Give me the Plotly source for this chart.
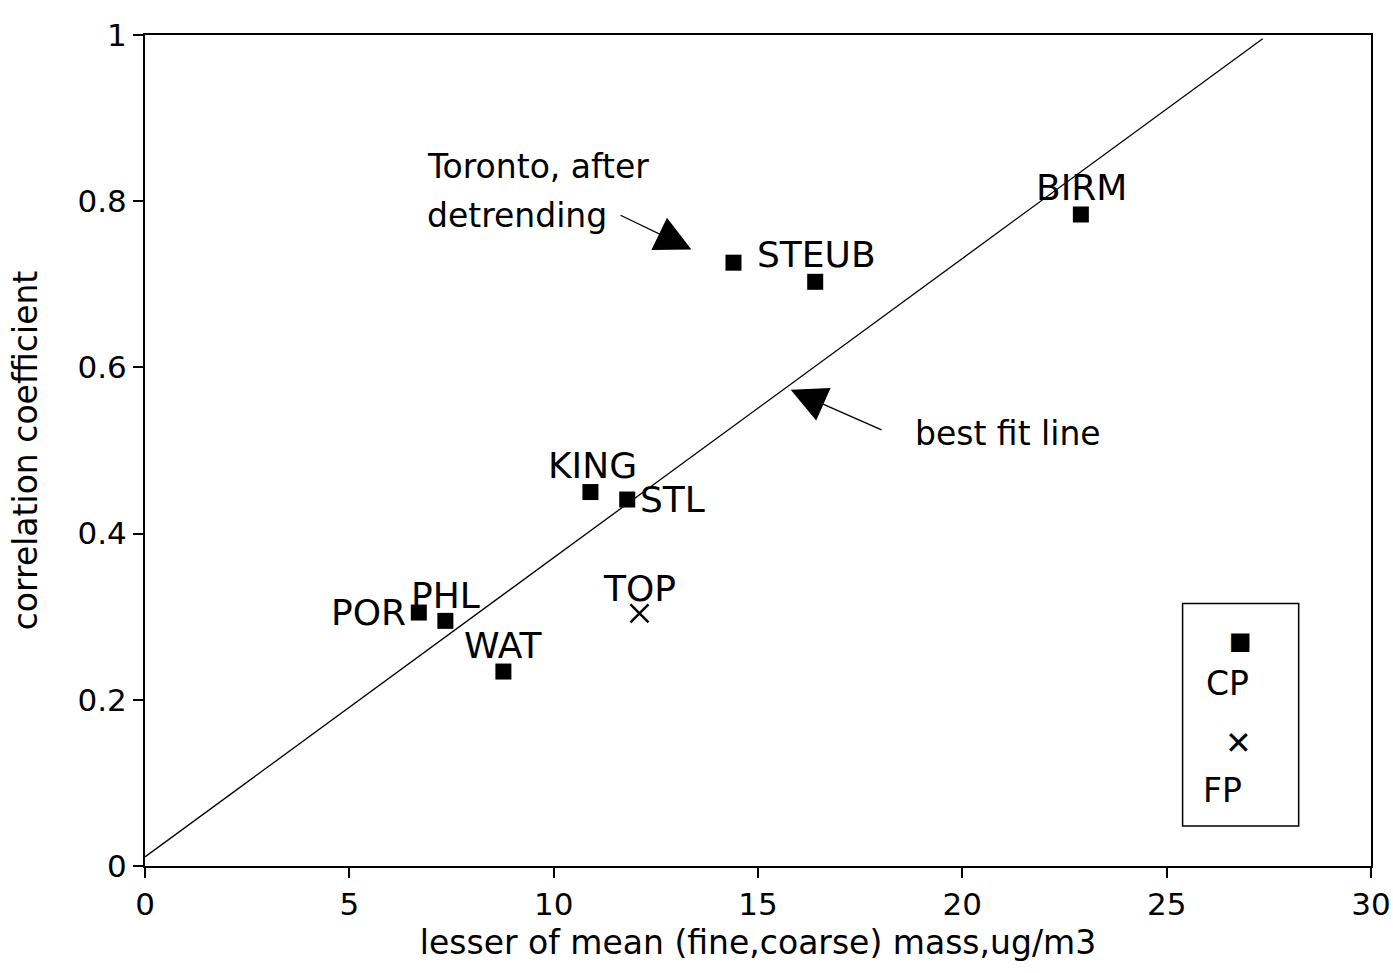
import plotly.graph_objects as go

# ---- data ----
cp_sites = ["POR", "PHL", "WAT", "KING", "STL", "Toronto", "STEUB", "BIRM"]
cp_mass = [6.7, 7.35, 8.77, 10.9, 11.8, 14.4, 16.4, 22.9]
cp_corr = [0.305, 0.295, 0.234, 0.450, 0.441, 0.726, 0.703, 0.784]

fp_sites = ["TOP"]
fp_mass = [12.1]
fp_corr = [0.304]

fit_intercept = 0.011
fit_slope = 0.036
fit_x = [0.0, 27.35]
fit_y = [fit_intercept + fit_slope * v for v in fit_x]

x_ticks = [0, 5, 10, 15, 20, 25, 30]
y_ticks = [0, 0.2, 0.4, 0.6, 0.8, 1]
y_ticklabels = ["0", "0.2", "0.4", "0.6", "0.8", "1"]

# label placement per site: (xanchor, xshift, yshift)
label_place = {
    "POR": ("right", -11, 0),
    "PHL": ("center", 0, 25),
    "WAT": ("center", 0, 26),
    "KING": ("center", 2, 27),
    "STL": ("left", 11, 0),
    "TOP": ("center", 0, 25),
    "STEUB": ("center", 1, 27),
    "BIRM": ("center", 1, 27),
}

FONT = "DejaVu Sans, Verdana, sans-serif"

fig = go.Figure()

fig.add_trace(go.Scatter(
    x=fit_x, y=fit_y, mode="lines",
    line=dict(color="black", width=1.3), showlegend=False, hoverinfo="skip"))

fig.add_trace(go.Scatter(
    x=cp_mass, y=cp_corr, mode="markers", name="CP", text=cp_sites,
    marker=dict(symbol="square", size=16, color="black"), showlegend=False))

fig.add_trace(go.Scatter(
    x=fp_mass, y=fp_corr, mode="markers", name="FP", text=fp_sites,
    marker=dict(symbol="x-thin", size=18, line=dict(color="black", width=2.5)),
    showlegend=False))

annotations = []
for s, xv, yv in list(zip(cp_sites, cp_mass, cp_corr)) + list(zip(fp_sites, fp_mass, fp_corr)):
    if s not in label_place:
        continue
    xa, xs, ys = label_place[s]
    annotations.append(dict(
        x=xv, y=yv, text=s, showarrow=False, xanchor=xa, yanchor="middle",
        xshift=xs, yshift=ys, font=dict(size=36, color="black", family=FONT)))

# Toronto annotation
annotations += [
    dict(x=6.86, y=0.868, text="Toronto, after", showarrow=False, xanchor="left",
         yanchor="top", font=dict(size=33, color="black", family=FONT)),
    dict(x=6.86, y=0.809, text="detrending", showarrow=False, xanchor="left",
         yanchor="top", font=dict(size=33, color="black", family=FONT)),
    dict(x=13.37, y=0.742, ax=11.6, ay=0.784, axref="x", ayref="y", text="",
         showarrow=True, arrowhead=2, arrowsize=5.5, arrowwidth=1.3, arrowcolor="black"),
    dict(x=18.8, y=0.521, text="best fit line", showarrow=False, xanchor="left",
         yanchor="middle", font=dict(size=33, color="black", family=FONT)),
    dict(x=15.8, y=0.573, ax=18.06, ay=0.524, axref="x", ayref="y", text="",
         showarrow=True, arrowhead=2, arrowsize=5.5, arrowwidth=1.3, arrowcolor="black"),
]

# manual legend box
fig.add_shape(type="rect", x0=25.39, x1=28.23, y0=0.048, y1=0.316,
              line=dict(color="black", width=1.5))
annotations += [
    dict(x=26.8, y=0.271, text="■", showarrow=False, font=dict(size=24, color="black", family="DejaVu Sans")),
    dict(x=26.5, y=0.220, text="CP", showarrow=False, font=dict(size=33, color="black", family=FONT)),
    dict(x=26.76, y=0.148, text="✕", showarrow=False, font=dict(size=32, color="black", family="DejaVu Sans")),
    dict(x=26.37, y=0.091, text="FP", showarrow=False, font=dict(size=33, color="black", family=FONT)),
]

fig.update_layout(
    width=1393, height=973,
    margin=dict(l=145, r=22, t=35, b=107, autoexpand=False),
    paper_bgcolor="white", plot_bgcolor="white",
    font=dict(family=FONT, color="black", size=30),
    annotations=annotations,
    showlegend=False,
)
fig.update_xaxes(
    range=[0, 30], tickvals=x_ticks, ticktext=[str(v) for v in x_ticks],
    showgrid=False, zeroline=False, showline=True, linecolor="black", linewidth=2,
    mirror=True, ticks="outside", ticklen=10, tickwidth=1.5, tickcolor="black",
    automargin=False, ticklabeloverflow="allow",
    tickfont=dict(size=31), title=dict(text="lesser of mean (fine,coarse) mass,ug/m3",
                                       font=dict(size=33), standoff=10))
fig.update_yaxes(
    range=[0, 1], tickvals=y_ticks, ticktext=y_ticklabels,
    showgrid=False, zeroline=False, showline=True, linecolor="black", linewidth=2,
    mirror=True, ticks="outside", ticklen=10, tickwidth=1.5, tickcolor="black",
    automargin=False, ticklabeloverflow="allow",
    tickfont=dict(size=31), title=dict(text="correlation coefficient",
                                       font=dict(size=33), standoff=30))

fig.write_html("out.html", config={"displayModeBar": False},
               post_script="document.body.style.margin='0';document.body.style.overflow='hidden';")
